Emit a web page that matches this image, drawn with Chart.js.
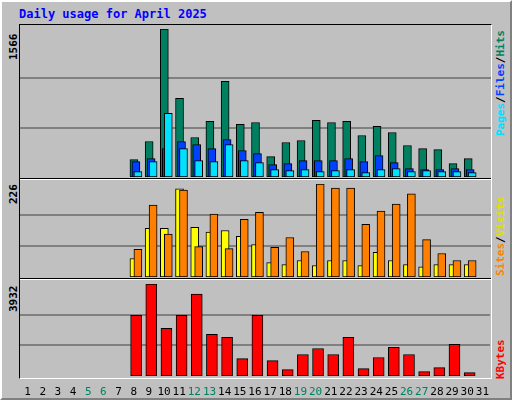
<!DOCTYPE html>
<html><head><meta charset="utf-8">
<script src="https://cdn.jsdelivr.net/npm/chart.js@4"></script>
<style>
body{margin:0;width:512px;height:400px;overflow:hidden;background:#fff}
#page{position:absolute;left:0;top:0;width:508px;height:396px;background:#c0c0c0;border-top:2px solid #fff;border-left:2px solid #fff;border-right:2px solid #808080;border-bottom:2px solid #808080}
.t{position:absolute;font-family:"DejaVu Sans Mono",monospace;font-weight:bold;font-size:11px;white-space:nowrap}
.rot{transform-origin:left top;transform:rotate(-90deg)}
canvas{position:absolute}
.sep{position:absolute;left:20px;width:471px;height:1px}
</style></head><body>
<div id="page"></div>
<div class="t" style="left:19px;top:7px;color:#0000ff;font-size:12px">Daily usage for April 2025</div>
<div style="position:absolute;left:19px;top:24px;width:471px;height:353px;border-top:1px solid #000;border-left:1px solid #000;border-right:1px solid #fff;border-bottom:1px solid #fff"></div>
<div class="sep" style="top:178px;background:#000"></div><div class="sep" style="top:179px;background:#fff"></div>
<div class="sep" style="top:278px;background:#000"></div><div class="sep" style="top:279px;background:#fff"></div>
<div class="t rot" style="left:7px;top:60px">1566</div>
<div class="t rot" style="left:7px;top:204px">226</div>
<div class="t rot" style="left:7px;top:312px">3932</div>
<div class="t rot" style="left:494px;top:136px"><span style="color:#00e0ff">Pages</span>/<span style="color:#0040ff">Files</span>/<span style="color:#008060">Hits</span></div>
<div class="t rot" style="left:494px;top:276px"><span style="color:#ff8000">Sites</span>/<span style="color:#e0e000">Visits</span></div>
<div class="t rot" style="left:494px;top:379px;color:#ff0000">KBytes</div>
<canvas id="c1" style="left:20px;top:25px" width="471" height="152"></canvas>
<canvas id="c2" style="left:20px;top:180px" width="471" height="97"></canvas>
<canvas id="c3" style="left:20px;top:280px" width="471" height="118"></canvas>
<script>
const days=[8,9,10,11,12,13,14,15,16,17,18,19,20,21,22,23,24,25,26,27,28,29,30];
const hits=[184,376,1566,833,418,588,1013,556,577,216,365,386,599,577,588,439,535,471,333,301,290,142,195];
const files=[163,195,301,376,344,301,397,280,248,131,142,174,174,174,195,163,227,152,89,78,78,89,78];
const pages=[57,163,673,301,174,163,344,174,152,78,67,78,57,67,78,46,78,89,57,67,57,57,46];
const visits=[45,118,118,214,121,109,113,99,79,35,30,40,28,40,40,28,60,40,30,25,30,30,30];
const sites=[67,175,104,211,74,153,69,140,157,72,96,62,226,216,216,128,160,177,202,91,57,40,40];
const kbytes=[2597,3932,2038,2597,3501,1779,1650,746,2597,660,273,918,1177,918,1650,316,789,1220,918,187,359,1349,144];
const dayLabels=Array.from({length:31},(_,i)=>i+1);
const maxes={top:1566,mid:226,bot:3932};
const weekend=[5,6,12,13,19,20,26,27];

function ds(vals,off,color,order,th){
  return {data:days.map((d,i)=>({x:d+off,y:vals[i]})),backgroundColor:color,borderColor:'#000',borderWidth:1,barThickness:th,order:order,grouped:false,borderSkipped:false};
}
function make(id,datasets,max,showX){
  const step=max/3;
  const x={type:'linear',min:0.5,max:31.5,offset:false,display:showX,grid:{display:false},border:{display:false}};
  if(showX){
    x.afterFit=s=>{s.height=22};
    x.afterBuildTicks=s=>{s.ticks=dayLabels.map(v=>({value:v}))};
    x.ticks={autoSkip:false,maxRotation:0,minRotation:0,padding:2,font:{family:'DejaVu Sans Mono',size:11},
      color:dayLabels.map(v=>weekend.includes(v)?'#008060':'#000'),
      callback:v=>String(v)};
  }
  return new Chart(document.getElementById(id),{type:'bar',data:{datasets},
   options:{responsive:false,animation:false,events:[],
    layout:{padding:{top:4,left:0,right:0,bottom:0}},
    plugins:{legend:{display:false},tooltip:{enabled:false}},
    scales:{x,
     y:{min:0,max:max,afterFit:s=>{s.width=0},border:{display:false},
        afterBuildTicks:s=>{s.ticks=[{value:step},{value:2*step}]},
        ticks:{display:false},grid:{drawTicks:false,color:'#808080',lineWidth:2}}
    }}});
}
make('c1',[ds(hits,0,'#008060',3,8),ds(files,0.13,'#0040ff',2,8),ds(pages,0.26,'#00e0ff',1,8)],maxes.top,false);
make('c2',[ds(visits,0,'#ffff00',2,8),ds(sites,0.26,'#ff8000',1,8)],maxes.mid,false);
make('c3',[ds(kbytes,0.16,'#ff0000',1,11)],maxes.bot,true);
</script></body></html>
